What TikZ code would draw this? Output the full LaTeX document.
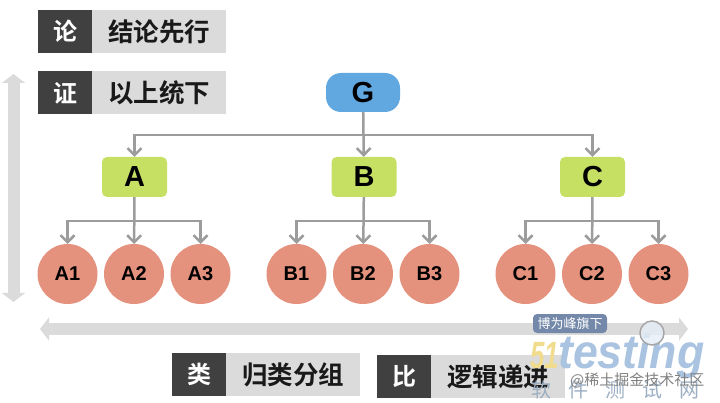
\documentclass[tikz,border=0pt]{standalone}
\usepackage{fontspec}
\setmainfont{Liberation Sans}
\newfontfamily\cjk{Noto Sans CJK SC}[BoldFont={Noto Sans CJK SC Bold}]
\usetikzlibrary{positioning}
\usetikzlibrary{arrows.meta}
\definecolor{tagdark}{HTML}{404040}
\definecolor{taglight}{HTML}{DBDBDB}
\definecolor{rootblue}{HTML}{62A8E0}
\definecolor{midgreen}{HTML}{C6E064}
\definecolor{leafred}{HTML}{E4917D}
\definecolor{wiregray}{HTML}{9C9C9C}
\definecolor{markblue}{HTML}{A9C3E0}
\definecolor{markyellow}{HTML}{F0DC8C}
\definecolor{markslate}{HTML}{7489A9}

\begin{document}
\begin{tikzpicture}[
        x = 1pt,
        y = -1pt,
        tag/.style = {
                fill = tagdark,
                text = white,
                font = \cjk\bfseries\fontsize{24}{24}\selectfont,
                minimum width = 54pt,
                minimum height = 43pt,
                inner sep = 0pt,
                outer sep = 0pt
            },
        tagtext/.style = {
                fill = taglight,
                text = black!90,
                font = \cjk\bfseries\fontsize{25.5}{26}\selectfont,
                minimum width = 134pt,
                minimum height = 43pt,
                inner sep = 0pt,
                outer sep = 0pt
            },
        mid/.style = {
                fill = midgreen,
                rounded corners = 5pt,
                font = \bfseries\fontsize{29}{29}\selectfont,
                minimum width = 65pt,
                minimum height = 40pt,
                inner sep = 0pt
            },
        leaf/.style = {
                circle,
                fill = leafred,
                font = \bfseries\fontsize{20}{20}\selectfont,
                minimum size = 60pt,
                inner sep = 0pt,
                outer sep = 0pt
            },
        wire/.style = {
                draw = wiregray,
                line width = 2.5pt,
                -{Straight Barb[length=7pt,width=14pt,line width=2.5pt]}
            },
        bigarrow/.style = {
                draw = taglight,
                line width = 12pt,
                {Triangle[length=9pt,width=23pt]}-{Triangle[length=9pt,width=23pt]}
            },
        node distance = {66.5pt}
    ]
    \useasboundingbox (0,0) rectangle (720,403);

    % tags
    \node[tag, anchor=north west] (lun) at (38,10) {论};
    \node[tagtext, right=0pt of lun] (luntext) {结论先行};
    \node[tag, anchor=north west] (zheng) at (38,71.5) {证};
    \node[tagtext, right=0pt of zheng] (zhengtext) {以上统下};
    \node[tag, anchor=north west] (lei) at (172,353) {类};
    \node[tagtext, right=0pt of lei] (leitext) {归类分组};
    \node[tag, anchor=north west] (bi) at (377,355) {比};
    \node[tagtext, right=0pt of bi] (bitext) {逻辑递进};

    % big arrows
    \coordinate (vtop) at (13.5,74);
    \coordinate (vbot) at (13.5,302);
    \coordinate (hleft) at (40,329);
    \coordinate (hright) at (688,329);
    \draw[bigarrow] (vtop) -- (vbot);
    \draw[bigarrow] (hleft) -- (hright);

    % tree
    \node[fill=rootblue, rounded corners=15pt, minimum width=74pt, minimum height=39pt,
          inner sep=0pt, font=\bfseries\fontsize{29}{29}\selectfont] (g) at (363,92.5) {G};
    \node[mid] (a) at (134.5,177) {A};
    \node[mid] (b) at (364,177) {B};
    \node[mid] (c) at (592.5,177) {C};

    \node[leaf] (a2) at (134,274) {A2};
    \node[leaf, left of=a2] (a1) {A1};
    \node[leaf, right of=a2] (a3) {A3};
    \node[leaf] (b2) at (363,274) {B2};
    \node[leaf, left of=b2] (b1) {B1};
    \node[leaf, right of=b2] (b3) {B3};
    \node[leaf] (c2) at (592,274) {C2};
    \node[leaf, left of=c2] (c1) {C1};
    \node[leaf, right of=c2] (c3) {C3};

    \coordinate (busg) at (363.5,135);
    \coordinate (busa) at (134.5,221);
    \coordinate (busb) at (363.5,221);
    \coordinate (busc) at (592.5,221);

    \draw[wire] (g) -- (b);
    \draw[wire] (busg) -| (a);
    \draw[wire] (busg) -| (c);
    \draw[wire] (a) -- (a2);
    \draw[wire] (busa) -| (a1);
    \draw[wire] (busa) -| (a3);
    \draw[wire] (b) -- (b2);
    \draw[wire] (busb) -| (b1);
    \draw[wire] (busb) -| (b3);
    \draw[wire] (c) -- (c2);
    \draw[wire] (busc) -| (c1);
    \draw[wire] (busc) -| (c3);

    % watermark
    \node[fill=markslate, text=white, rounded corners=4pt,
          minimum width=74pt, minimum height=19pt, inner sep=0pt,
          font=\cjk\fontsize{13}{13}\selectfont] (mark) at (570,323.5) {博为峰旗下};
    \node[text=markyellow, anchor=base west, inner sep=0pt,
          font=\bfseries\itshape\fontsize{38}{38}\selectfont] (fiftyone) at (530,368) {\scalebox{.68}[1]{51}};
    \node[text=markblue, anchor=base west, inner sep=0pt,
          font=\bfseries\itshape\fontsize{48}{48}\selectfont] (testing) at (558,368) {\scalebox{.93}[1]{testing}};
    \node[circle, draw=gray!70, fill=markblue!30, fill opacity=.8, line width=1.5pt,
          minimum size=24pt, inner sep=0pt] (lens) at (652,333) {};
    \node[text=markblue!70!gray, anchor=base west, inner sep=0pt,
          font=\cjk\fontsize{20}{20}\selectfont] (ruanjian) at (531,397) {软\hspace{17pt}件\hspace{17pt}测\hspace{17pt}试\hspace{17pt}网};
    \node[text=gray, anchor=base west, inner sep=0pt,
          font=\cjk\fontsize{15}{15}\selectfont] (juejin) at (570,385) {@稀土掘金技术社区};
\end{tikzpicture}
\end{document}
